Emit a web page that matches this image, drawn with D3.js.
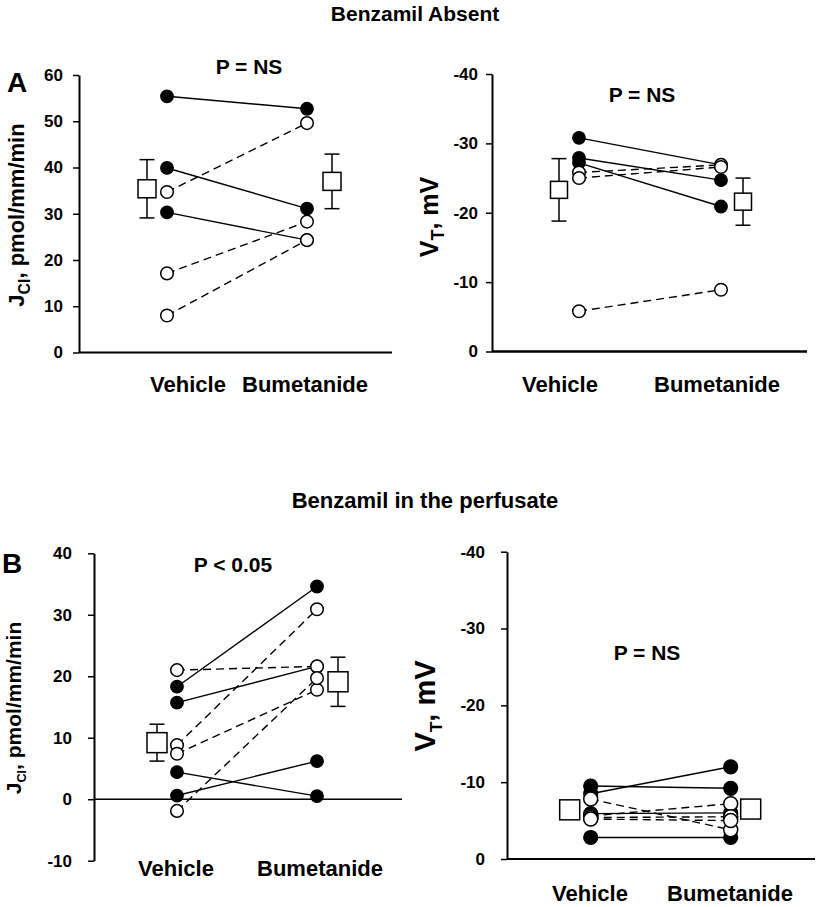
<!DOCTYPE html>
<html><head><meta charset="utf-8">
<script src="https://cdn.jsdelivr.net/npm/d3@7"></script>
<style>
body{margin:0;background:#fff}
text{font-family:"Liberation Sans",Arial,sans-serif;font-weight:bold;fill:#000}
</style>
</head><body><svg id="c" width="817" height="907"></svg>
<script>
const categories = ["Vehicle","Bumetanide"];
const titles = ["Benzamil Absent","Benzamil in the perfusate"];
const panelLetters = ["A","B"];
const pLabels = ["P = NS","P = NS","P < 0.05","P = NS"];
// Panel A (benzamil absent) – JCl
const aJclTicks = [0,10,20,30,40,50,60];
const aJclFilled = [[55.4,52.7],[39.9,31.1],[30.3,24.3]];
const aJclOpen = [[34.7,49.6],[17.1,28.3],[8.0,24.3]];
const aJclMean = [35.4,37.0];
const aJclSem = [6.3,5.9];
// Panel A – VT
const aVtTicks = [0,-10,-20,-30,-40];
const aVtFilled = [[-30.8,-26.9],[-27.9,-24.7],[-27.2,-20.9]];
const aVtOpen = [[-25.8,-26.9],[-25.0,-26.6],[-5.8,-8.9]];
const aVtMean = [-23.3,-21.6];
const aVtSem = [4.5,3.4];
// Panel B (benzamil in perfusate) – JCl
const bJclTicks = [-10,0,10,20,30,40];
const bJclFilled = [[18.3,34.6],[15.7,21.6],[4.4,0.5],[0.6,6.2]];
const bJclOpen = [[21.0,21.6],[8.8,30.9],[7.4,17.8],[-1.9,19.7]];
const bJclMean = [9.2,19.1];
const bJclSem = [3.0,4.0];
// Panel B – VT
const bVtTicks = [0,-10,-20,-30,-40];
const bVtFilled = [[-8.5,-12.0],[-9.5,-9.2],[-5.9,-6.0],[-2.8,-2.8]];
const bVtOpen = [[-7.8,-3.8],[-5.6,-7.2],[-5.4,-5.5],[-5.2,-5.0]];
const bVtMean = [-6.4,-6.5];
const bVtSem = [0.8,0.8];

const svg = d3.select("#c");

function panel(o){
  const g = svg.append("g");
  const y = d3.scaleLinear().domain(o.domain).range(o.yRange);
  const x = d3.scalePoint().domain(categories).range(o.catX);
  const ax = g.append("g").attr("transform",`translate(${o.axisX},0)`)
    .call(d3.axisLeft(y).tickValues(o.ticks).tickSize(6).tickSizeOuter(0)
      .tickPadding(o.tickPad).tickFormat(d=>String(d)));
  ax.select(".domain").attr("stroke","#000").attr("stroke-width",2);
  ax.selectAll(".tick line").attr("stroke","#000").attr("stroke-width",1.5);
  ax.selectAll(".tick text").attr("font-size",o.tickFont).attr("font-family",'"Liberation Sans",Arial,sans-serif').attr("font-weight","bold").attr("fill","#000");
  g.append("line").attr("x1",o.axisX).attr("x2",o.xEnd)
    .attr("y1",y(o.baseVal)).attr("y2",y(o.baseVal))
    .attr("stroke","#000").attr("stroke-width",o.baseW);
  const lines = [];
  o.filled.forEach(p=>lines.push({p,dash:null}));
  o.open.forEach(p=>lines.push({p,dash:"8,5"}));
  g.selectAll("line.pair").data(lines).join("line").attr("class","pair")
    .attr("x1",x(categories[0])).attr("x2",x(categories[1]))
    .attr("y1",d=>y(d.p[0])).attr("y2",d=>y(d.p[1]))
    .attr("stroke","#000").attr("stroke-width",1.4)
    .attr("stroke-dasharray",d=>d.dash);
  const fpts = [], opts = [];
  o.filled.forEach(p=>p.forEach((v,i)=>fpts.push({c:categories[i],v})));
  o.open.forEach(p=>p.forEach((v,i)=>opts.push({c:categories[i],v})));
  g.selectAll("circle.f").data(fpts).join("circle").attr("class","f")
    .attr("cx",d=>x(d.c)).attr("cy",d=>y(d.v)).attr("r",o.r)
    .attr("fill","#000").attr("stroke","#000").attr("stroke-width",1.2);
  g.selectAll("circle.o").data(opts).join("circle").attr("class","o")
    .attr("cx",d=>x(d.c)).attr("cy",d=>y(d.v)).attr("r",o.r)
    .attr("fill","#fff").attr("stroke","#000").attr("stroke-width",1.5);
  const means = categories.map((c,i)=>({c,i,m:o.mean[i],s:o.sem[i]}));
  const mx = d=>x(d.c)+o.meanOff[d.i];
  const mg = g.selectAll("g.mean").data(means).join("g").attr("class","mean");
  mg.append("line").attr("x1",mx).attr("x2",mx)
    .attr("y1",d=>y(d.m-d.s)).attr("y2",d=>y(d.m+d.s))
    .attr("stroke","#000").attr("stroke-width",1.5);
  [-1,1].forEach(k=>{
    mg.append("line").attr("x1",d=>mx(d)-7.5).attr("x2",d=>mx(d)+7.5)
      .attr("y1",d=>y(d.m+k*d.s)).attr("y2",d=>y(d.m+k*d.s))
      .attr("stroke","#000").attr("stroke-width",1.5);
  });
  mg.append("rect").attr("x",d=>mx(d)-o.sq/2).attr("y",d=>y(d.m)-o.sq/2)
    .attr("width",o.sq).attr("height",o.sq)
    .attr("fill","#fff").attr("stroke","#000").attr("stroke-width",1.5);
  g.append("text").attr("x",o.pPos[0]).attr("y",o.pPos[1]).attr("text-anchor","middle")
    .attr("font-size",21).text(o.pLabel);
  g.selectAll("text.cat").data(categories).join("text").attr("class","cat")
    .attr("x",(d,i)=>o.catLab[i]).attr("y",o.catLabY).attr("text-anchor","middle")
    .attr("font-size",22).text(d=>d);
  const yl = o.yl;
  const t = g.append("text").attr("x",yl.x).attr("y",yl.y).attr("text-anchor","middle")
    .attr("transform",`rotate(-90,${yl.x},${yl.y})`).attr("font-size",yl.size);
  t.append("tspan").text(yl.main);
  t.append("tspan").attr("font-size",yl.size*yl.subScale).attr("dy",yl.size*0.25).text(yl.sub);
  t.append("tspan").attr("dy",-yl.size*0.25).text(yl.rest);
}

svg.append("text").attr("x",415).attr("y",21).attr("text-anchor","middle").attr("font-size",21).text(titles[0]);
svg.append("text").attr("x",425).attr("y",508).attr("text-anchor","middle").attr("font-size",22).text(titles[1]);
svg.append("text").attr("x",7).attr("y",92).attr("font-size",28).text(panelLetters[0]);
svg.append("text").attr("x",2).attr("y",573).attr("font-size",28).text(panelLetters[1]);

panel({ticks:aJclTicks,filled:aJclFilled,open:aJclOpen,mean:aJclMean,sem:aJclSem,
  domain:[0,60],yRange:[352.5,75],axisX:79,xEnd:392,baseVal:0,baseW:2,catX:[167,307],
  meanOff:[-20,25],sq:18,r:6.3,tickPad:10,tickFont:17,pLabel:pLabels[0],pPos:[249,74],
  catLab:[188,305],catLabY:392,
  yl:{x:24,y:215,size:22,main:"J",sub:"Cl",rest:", pmol/mm/min",subScale:0.72}});

panel({ticks:aVtTicks,filled:aVtFilled,open:aVtOpen,mean:aVtMean,sem:aVtSem,
  domain:[0,-40],yRange:[351.5,74],axisX:492,xEnd:807,baseVal:0,baseW:2.5,catX:[579,721],
  meanOff:[-20,22],sq:17,r:6.3,tickPad:8,tickFont:17,pLabel:pLabels[1],pPos:[642,102],
  catLab:[560,717],catLabY:392,
  yl:{x:438,y:217,size:25,main:"V",sub:"T",rest:", mV",subScale:0.72}});

panel({ticks:bJclTicks,filled:bJclFilled,open:bJclOpen,mean:bJclMean,sem:bJclSem,
  domain:[-10,40],yRange:[860.7,553.3],axisX:94,xEnd:402,baseVal:0,baseW:1.5,catX:[177,317],
  meanOff:[-20,21],sq:20,r:6.3,tickPad:16,tickFont:17,pLabel:pLabels[2],pPos:[233,572],
  catLab:[176,320],catLabY:876,
  yl:{x:21,y:708,size:21,main:"J",sub:"Cl",rest:", pmol/mm/min",subScale:0.6}});

panel({ticks:bVtTicks,filled:bVtFilled,open:bVtOpen,mean:bVtMean,sem:bVtSem,
  domain:[0,-40],yRange:[859,551.7],axisX:507,xEnd:815,baseVal:0,baseW:2,catX:[590.7,730.7],
  meanOff:[-21,20],sq:20,r:7,tickPad:16,tickFont:17,pLabel:pLabels[3],pPos:[647,660],
  catLab:[590,730],catLabY:901,
  yl:{x:435,y:706,size:29,main:"V",sub:"T",rest:", mV",subScale:0.6}});
</script>
</body></html>
